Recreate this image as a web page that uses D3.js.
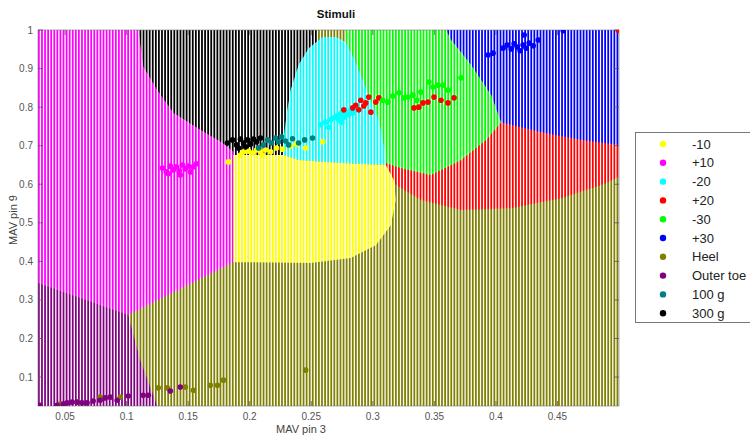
<!DOCTYPE html>
<html><head><meta charset="utf-8">
<script src="https://cdn.jsdelivr.net/npm/d3@7"></script>
<style>
body{margin:0;background:#fff}
svg{display:block}
text{font-family:"Liberation Sans",Arial,sans-serif}
</style>
</head><body><svg id="c" width="750" height="436"></svg>
<script>
// ---------- data ----------
const categories = ["-10","+10","-20","+20","-30","+30","Heel","Outer toe","100 g","300 g"];
const catColors  = ["#ffff00","#ff00ff","#00ffff","#ff0000","#00ff00","#0000ff","#808000","#800080","#008080","#000000"];

const xDomain = [0.028, 0.5];
const yDomain = [0.025, 1];
const xTicks = [0.05,0.1,0.15,0.2,0.25,0.3,0.35,0.4,0.45];
const yTicks = [0.1,0.2,0.3,0.4,0.5,0.6,0.7,0.8,0.9,1];
const gridStep = 0.0025;

// scatter points per class [MAV pin 3, MAV pin 9]
const ptsM10 = [[0.1827,0.658],[0.195,0.684],[0.199,0.686],[0.2023,0.681],[0.2055,0.689],[0.2088,0.684],[0.2129,0.689],[0.217,0.684],[0.2218,0.694],[0.2267,0.691],[0.2332,0.699],[0.238,0.704],[0.2454,0.694],[0.2593,0.710],[0.1925,0.676],[0.2104,0.676]];
const ptsP10 = [[0.129,0.642],[0.1322,0.632],[0.1355,0.647],[0.1379,0.637],[0.1404,0.645],[0.1428,0.634],[0.1453,0.650],[0.1477,0.640],[0.1502,0.647],[0.1518,0.632],[0.1542,0.645],[0.1567,0.653],[0.1339,0.627],[0.1436,0.624]];
const ptsM20 = [[0.2576,0.754],[0.2617,0.761],[0.2658,0.767],[0.2682,0.772],[0.2707,0.777],[0.2723,0.767],[0.2739,0.782],[0.2764,0.774],[0.278,0.787],[0.2804,0.780],[0.2821,0.793],[0.2837,0.785],[0.2642,0.748],[0.2747,0.761]];
const ptsP20 = [[0.2764,0.793],[0.2837,0.798],[0.2861,0.805],[0.2886,0.793],[0.2902,0.818],[0.2927,0.803],[0.2943,0.811],[0.2967,0.826],[0.2984,0.787],[0.3024,0.813],[0.3049,0.824],[0.3334,0.798],[0.3374,0.800],[0.3407,0.811],[0.3448,0.813],[0.3497,0.826],[0.3554,0.818],[0.3611,0.811],[0.366,0.824],[0.4995,0.999]];
const ptsM30 = [[0.3081,0.818],[0.3122,0.813],[0.3163,0.829],[0.3212,0.837],[0.3252,0.824],[0.3285,0.826],[0.3326,0.831],[0.3358,0.818],[0.3456,0.865],[0.3489,0.852],[0.353,0.857],[0.357,0.857],[0.3611,0.844],[0.3717,0.876],[0.3391,0.839]];
const ptsP30 = [[0.3936,0.935],[0.3977,0.940],[0.4058,0.953],[0.4091,0.961],[0.4124,0.951],[0.4148,0.964],[0.4173,0.956],[0.4197,0.946],[0.4221,0.961],[0.4246,0.953],[0.427,0.966],[0.4303,0.959],[0.423,0.987],[0.4344,0.974],[0.4547,0.998]];
const ptsHeel = [[0.0459,0.030],[0.0606,0.035],[0.0785,0.048],[0.0948,0.048],[0.1257,0.072],[0.133,0.072],[0.1477,0.074],[0.1542,0.066],[0.168,0.079],[0.1738,0.079],[0.1787,0.092],[0.2454,0.118]];
const ptsOuter = [[0.0296,0.027],[0.0435,0.027],[0.0484,0.030],[0.0516,0.033],[0.0557,0.035],[0.0598,0.035],[0.0638,0.033],[0.0679,0.033],[0.0728,0.038],[0.0785,0.040],[0.0826,0.046],[0.0866,0.048],[0.0923,0.040],[0.1013,0.051],[0.1135,0.053],[0.1176,0.053],[0.1355,0.064],[0.1436,0.074]];
const pts100 = [[0.2112,0.702],[0.2145,0.715],[0.2177,0.707],[0.221,0.720],[0.2234,0.710],[0.2259,0.723],[0.2291,0.712],[0.2316,0.702],[0.2348,0.718],[0.2397,0.707],[0.2446,0.715],[0.2511,0.720],[0.2072,0.694]];
const pts300 = [[0.1819,0.707],[0.186,0.715],[0.1892,0.702],[0.1925,0.717],[0.195,0.707],[0.1982,0.715],[0.2006,0.704],[0.2031,0.717],[0.2055,0.710],[0.2088,0.720],[0.1966,0.697],[0.1909,0.694]];

// decision regions (polygons in data coordinates)
const regHeel = [[xDomain[0],yDomain[0]],[xDomain[1],yDomain[0]],[xDomain[1],yDomain[1]],[xDomain[0],yDomain[1]]];
const regP20 = [[0.3106,0.663],[0.4042,0.793],[0.5,0.793],[0.5,0.619],[0.4857,0.598],[0.4531,0.564],[0.4124,0.538],[0.3717,0.533],[0.3391,0.559],[0.3187,0.598],[0.3106,0.642]];
const regP30 = [[0.3594,1],[0.5,1],[0.5,0.702],[0.4694,0.715],[0.4368,0.735],[0.4042,0.761],[0.3961,0.831],[0.3798,0.909],[0.3635,0.974]];
const regM30 = [[0.278,1],[0.3594,1],[0.3635,0.974],[0.3798,0.909],[0.3961,0.831],[0.4042,0.761],[0.392,0.715],[0.3717,0.663],[0.3472,0.624],[0.3228,0.642],[0.3106,0.655],[0.3098,0.689],[0.3049,0.767],[0.2951,0.844],[0.2853,0.922],[0.278,0.969]];
const reg300 = [[0.1094,1],[0.2552,1],[0.2552,0.96],[0.2479,0.94],[0.2397,0.9],[0.2332,0.844],[0.23,0.78],[0.2275,0.715],[0.2275,0.676],[0.1868,0.676],[0.1778,0.707],[0.1599,0.741],[0.1379,0.785],[0.1249,0.844],[0.1135,0.904]];
const regP10 = [[0.028,1],[0.1094,1],[0.1135,0.904],[0.1249,0.844],[0.1379,0.785],[0.1599,0.741],[0.1778,0.707],[0.1868,0.684],[0.1868,0.398],[0.1013,0.261],[0.028,0.344]];
const regM20 = [[0.2593,0.982],[0.2479,0.953],[0.2397,0.909],[0.2332,0.844],[0.23,0.780],[0.2275,0.715],[0.2275,0.676],[0.2397,0.663],[0.2739,0.655],[0.3106,0.650],[0.3098,0.689],[0.3049,0.767],[0.2951,0.844],[0.2853,0.922],[0.278,0.969],[0.2699,0.982]];
const regM10 = [[0.1868,0.676],[0.2275,0.676],[0.2397,0.663],[0.2739,0.655],[0.3106,0.650],[0.3171,0.611],[0.3187,0.559],[0.3146,0.494],[0.3024,0.442],[0.2821,0.409],[0.2495,0.396],[0.1925,0.398],[0.1868,0.398]];
const regOuter = [[0.028,0.344],[0.1013,0.261],[0.111,0.144],[0.1249,0.025],[0.028,0.025]];

// ---------- drawing ----------
const svg = d3.select("#c");
const L = 38, R = 619, T = 30, B = 406;
const xs = d3.scaleLinear().domain(xDomain).range([L, R]);
const ys = d3.scaleLinear().domain(yDomain).range([B, T]);
const col = d3.scaleOrdinal().domain(categories).range(catColors);

const regions = [
  {c:"Heel", p:regHeel},{c:"+20", p:regP20},{c:"+30", p:regP30},{c:"-30", p:regM30},
  {c:"300 g", p:reg300},{c:"+10", p:regP10},{c:"-20", p:regM20},{c:"-10", p:regM10},{c:"Outer toe", p:regOuter}
];
const points = [ptsM10, ptsP10, ptsM20, ptsP20, ptsM30, ptsP30, ptsHeel, ptsOuter, pts100, pts300];

const defs = svg.append("defs");
defs.append("clipPath").attr("id","clip").append("rect")
  .attr("x",L).attr("y",T).attr("width",R-L).attr("height",B-T);
const mask = defs.append("mask").attr("id","stripes")
  .attr("maskUnits","userSpaceOnUse").attr("x",0).attr("y",0).attr("width",750).attr("height",436);
const cols = d3.range(xDomain[0], xDomain[1], gridStep);
mask.selectAll("rect").data(cols).join("rect")
  .attr("x", d => xs(d))
  .attr("y", T)
  .attr("width", d => Math.max(0.5, xs(d + gridStep) - xs(d) - 1.3))
  .attr("height", B - T)
  .attr("fill", "#fff");

const line = d3.line().x(d => xs(d[0])).y(d => ys(d[1]));
const gReg = svg.append("g").attr("clip-path","url(#clip)").append("g").attr("mask","url(#stripes)");
gReg.selectAll("path").data(regions).join("path")
  .attr("d", d => line(d.p) + "Z")
  .attr("fill", d => col(d.c))
  .attr("stroke", "none");

// axes box
svg.append("rect").attr("x",L).attr("y",T).attr("width",R-L).attr("height",B-T)
  .attr("fill","none").attr("stroke","#777").attr("stroke-width",0.6);

// ticks (inward, all four sides)
const tk = svg.append("g").attr("stroke","#555").attr("stroke-width",0.8);
xTicks.forEach(v => {
  tk.append("line").attr("x1",xs(v)).attr("x2",xs(v)).attr("y1",B).attr("y2",B-5);
  tk.append("line").attr("x1",xs(v)).attr("x2",xs(v)).attr("y1",T).attr("y2",T+5);
});
yTicks.forEach(v => {
  tk.append("line").attr("x1",L).attr("x2",L+5).attr("y1",ys(v)).attr("y2",ys(v));
  tk.append("line").attr("x1",R).attr("x2",R-5).attr("y1",ys(v)).attr("y2",ys(v));
});

svg.append("g").selectAll("text").data(xTicks).join("text")
  .attr("x", d => xs(d)).attr("y", B + 14)
  .attr("text-anchor","middle").attr("font-size",10).attr("fill","#555")
  .text(d => d3.format("")(d));
svg.append("g").selectAll("text").data(yTicks).join("text")
  .attr("x", L - 5).attr("y", d => ys(d) + 3.5)
  .attr("text-anchor","end").attr("font-size",10).attr("fill","#555")
  .text(d => d3.format("")(d));

// scatter
const gPts = svg.append("g").attr("clip-path","url(#clip)");
points.forEach((arr, i) => {
  gPts.append("g").selectAll("circle").data(arr).join("circle")
    .attr("cx", d => xs(d[0])).attr("cy", d => ys(d[1])).attr("r", 2.8)
    .attr("fill", catColors[i]);
});

// labels
svg.append("text").attr("x",336).attr("y",18).attr("text-anchor","middle")
  .attr("font-size",11.5).attr("font-weight","bold").attr("fill","#111").text("Stimuli");
svg.append("text").attr("x",301).attr("y",433).attr("text-anchor","middle")
  .attr("font-size",11).attr("fill","#444").text("MAV pin 3");
svg.append("text").attr("transform","translate(17,220) rotate(-90)").attr("text-anchor","middle")
  .attr("font-size",11).attr("fill","#444").text("MAV pin 9");

// legend
const lg = svg.append("g");
lg.append("rect").attr("x",635.5).attr("y",132.5).attr("width",130).attr("height",190)
  .attr("fill","#fff").attr("stroke","#777").attr("stroke-width",1);
const items = lg.selectAll("g.it").data(categories).join("g").attr("class","it")
  .attr("transform",(d,i) => `translate(0,${144 + i*18.8})`);
items.append("circle").attr("cx",663).attr("cy",0).attr("r",3.2).attr("fill", d => col(d));
items.append("text").attr("x",692).attr("y",4.5).attr("font-size",13).attr("fill","#222").text(d => d);
</script>
</body></html>
